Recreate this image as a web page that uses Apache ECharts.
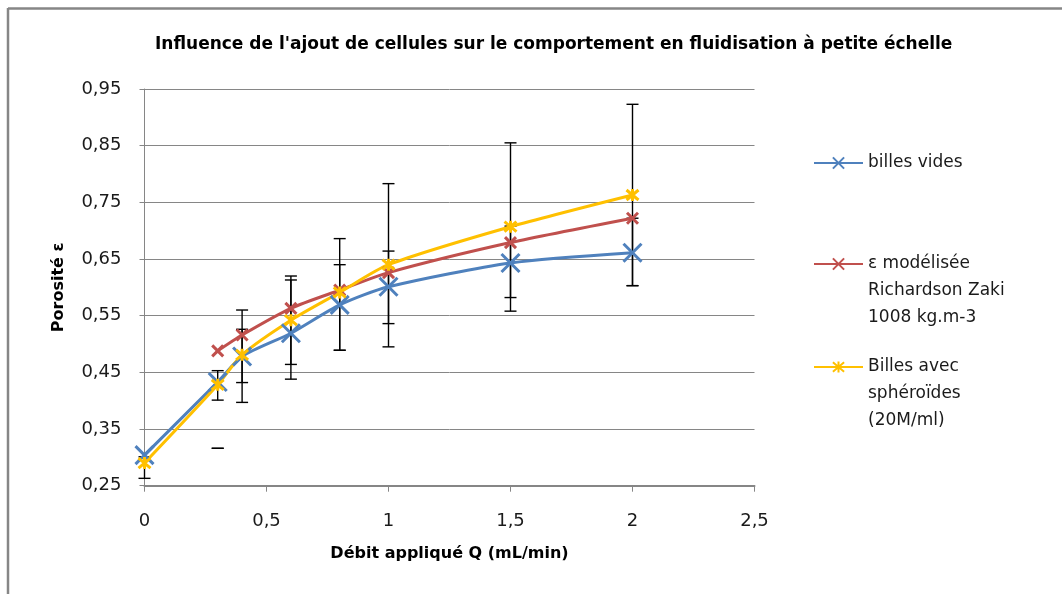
<!DOCTYPE html>
<html>
<head>
<meta charset="utf-8">
<script src="https://cdn.jsdelivr.net/npm/echarts@6/dist/echarts.min.js"></script>
<style>
html,body{margin:0;padding:0;background:#fff;}
#chart{width:1062px;height:594px;}
</style>
</head>
<body>
<div id="chart"></div>
<script>
// ---- data ----
const xValues = [0, 0.3, 0.4, 0.6, 0.8, 1, 1.5, 2];
const billesVides = [0.304, 0.433, 0.478, 0.519, 0.569, 0.601, 0.643, 0.661];
const epsModelisee = [null, 0.488, 0.516, 0.563, 0.595, 0.626, 0.679, 0.722];
const billesSpheroides = [0.290, 0.428, 0.481, 0.542, 0.591, 0.640, 0.707, 0.763];

const blueErrLow  = [null, 0.316, 0.432, 0.438, 0.489, 0.536, 0.582, 0.603];
const blueErrHigh = [null, 0.316, 0.526, 0.613, 0.640, 0.664, 0.708, 0.722];
const yellowErrLow  = [0.263, 0.401, 0.397, 0.464, 0.489, 0.495, 0.558, 0.603];
const yellowErrHigh = [0.301, 0.453, 0.560, 0.620, 0.686, 0.783, 0.855, 0.923];

const seriesNames = ['billes vides', 'ε modélisée Richardson Zaki 1008 kg.m-3', 'Billes avec sphéroïdes (20M/ml)'];
const legendTexts = ['billes vides', '\n\nε modélisée\nRichardson Zaki\n1008 kg.m-3', '\n\nBilles avec\nsphéroïdes\n(20M/ml)'];

const titleText = "Influence de l'ajout de cellules sur le comportement en fluidisation à petite échelle";
const xAxisTitle = 'Débit appliqué Q (mL/min)';
const yAxisTitle = 'Porosité ε';

// ---- build ----
const BLUE = '#4F81BD', RED = '#C0504D', YELLOW = '#FFC000';
const XSYM = 'path://M0,0L10,10M10,0L0,10';
const STARSYM = 'path://M0,0L10,10M10,0L0,10M5,-1L5,11';
const FONT = 'DejaVu Sans';
const GRAY = '#868686';

function pairs(ys) {
  const out = [];
  xValues.forEach((x, i) => { if (ys[i] != null) out.push([x, ys[i]]); });
  return out;
}
function errPairs(lo, hi) {
  const out = [];
  xValues.forEach((x, i) => { if (lo[i] != null) out.push([x, lo[i], hi[i]]); });
  return out;
}
function errRender(params, api) {
  const x = api.value(0), lo = api.value(1), hi = api.value(2);
  const p1 = api.coord([x, hi]);
  const p2 = api.coord([x, lo]);
  const w = 6;
  const st = { stroke: '#000', lineWidth: 1.4 };
  return {
    type: 'group',
    children: [
      { type: 'line', shape: { x1: p1[0], y1: p1[1], x2: p2[0], y2: p2[1] }, style: st },
      { type: 'line', shape: { x1: p1[0] - w, y1: p1[1], x2: p1[0] + w, y2: p1[1] }, style: st },
      { type: 'line', shape: { x1: p2[0] - w, y1: p2[1], x2: p2[0] + w, y2: p2[1] }, style: st }
    ]
  };
}
function lineSeries(name, color, data, symbol, size) {
  return {
    name: name, type: 'line', data: pairs(data), smooth: 0.25,
    symbol: symbol, symbolSize: size, showAllSymbol: true,
    lineStyle: { color: color, width: 3 },
    itemStyle: { color: color, borderColor: color, borderWidth: 3 },
    z: 3, animation: false
  };
}
function legendFor(i, top) {
  return {
    data: [seriesNames[i]], left: 813, top: top, orient: 'vertical', padding: 0,
    itemWidth: 49, itemHeight: 14,
    formatter: () => legendTexts[i],
    textStyle: { fontFamily: FONT, fontSize: 17, color: '#1a1a1a', lineHeight: 27 },
    selectedMode: false
  };
}

const chart = echarts.init(document.getElementById('chart'), null, { renderer: 'canvas' });
chart.setOption({
  animation: false,
  backgroundColor: '#fff',
  title: {
    text: titleText, left: 150, top: 31,
    textStyle: { fontFamily: FONT, fontSize: 17, fontWeight: 'bold', color: '#000' }
  },
  legend: [legendFor(0, 149.5), legendFor(1, 196.5), legendFor(2, 299.5)],
  graphic: [
    { type: 'line', shape: { x1: 8, y1: 8.5, x2: 1062, y2: 8.5 }, style: { stroke: GRAY, lineWidth: 2.5 }, silent: true },
    { type: 'line', shape: { x1: 8, y1: 8, x2: 8, y2: 594 }, style: { stroke: GRAY, lineWidth: 2.5 }, silent: true }
  ],
  grid: { left: 144.5, right: 307.5, top: 89, bottom: 108.3, containLabel: false },
  xAxis: {
    type: 'value', min: 0, max: 2.5, interval: 0.5,
    name: xAxisTitle, nameLocation: 'middle', nameGap: 60,
    nameTextStyle: { fontFamily: FONT, fontSize: 16, fontWeight: 'bold', color: '#000' },
    axisLine: { show: true, lineStyle: { color: GRAY, width: 2 } },
    axisTick: { show: true, length: 6, lineStyle: { color: GRAY, width: 1 } },
    splitLine: { show: false },
    axisLabel: { margin: 27, fontFamily: FONT, fontSize: 18, color: '#1a1a1a',
      formatter: v => String(v).replace('.', ',') }
  },
  yAxis: {
    type: 'value', min: 0.25, max: 0.95, interval: 0.1,
    name: yAxisTitle, nameLocation: 'middle', nameGap: 78, nameRotate: 90,
    nameTextStyle: { fontFamily: FONT, fontSize: 16, fontWeight: 'bold', color: '#000' },
    axisLine: { show: true, lineStyle: { color: GRAY, width: 1 } },
    axisTick: { show: true, length: 5, lineStyle: { color: GRAY, width: 1 } },
    splitLine: { show: true, lineStyle: { color: GRAY, width: 1 } },
    axisLabel: { margin: 23, fontFamily: FONT, fontSize: 18, color: '#1a1a1a',
      formatter: v => v.toFixed(2).replace('.', ',') }
  },
  series: [
    { type: 'custom', name: 'err-yellow', data: errPairs(yellowErrLow, yellowErrHigh),
      renderItem: errRender, encode: { x: 0, y: [1, 2] }, z: 2, silent: true },
    { type: 'custom', name: 'err-blue', data: errPairs(blueErrLow, blueErrHigh),
      renderItem: errRender, encode: { x: 0, y: [1, 2] }, z: 2, silent: true },
    lineSeries(seriesNames[0], BLUE, billesVides, XSYM, 18),
    lineSeries(seriesNames[1], RED, epsModelisee, XSYM, 11),
    lineSeries(seriesNames[2], YELLOW, billesSpheroides, STARSYM, 12)
  ]
});
</script>
</body>
</html>
